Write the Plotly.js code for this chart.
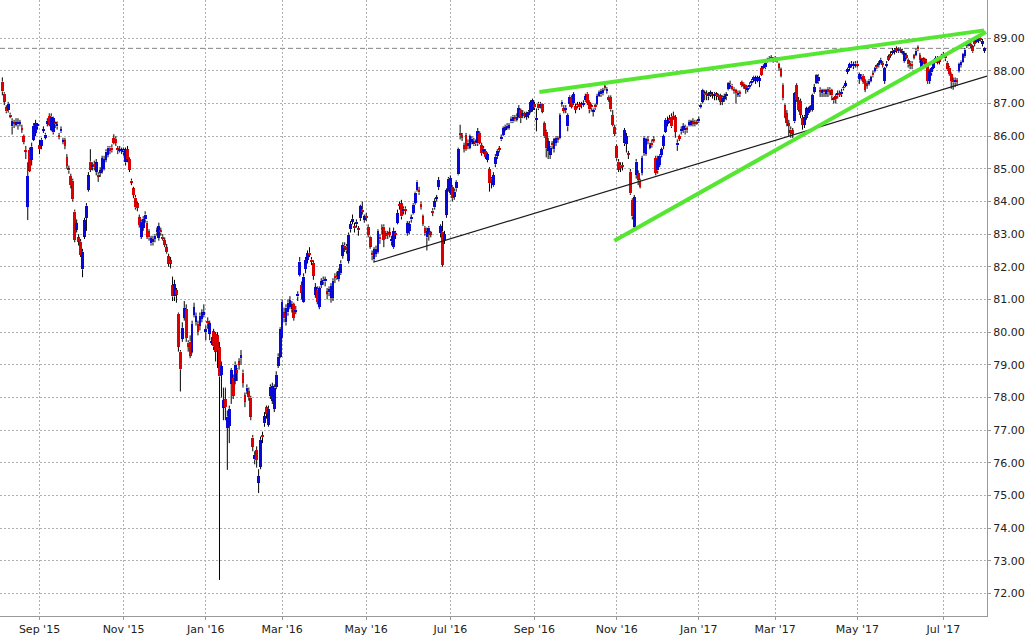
<!DOCTYPE html>
<html>
<head>
<meta charset="utf-8">
<script src="https://cdn.plot.ly/plotly-3.0.1.min.js"></script>
<style>
html,body{margin:0;padding:0;background:#fff;}
#chart{width:1034px;height:641px;}
</style>
</head>
<body>
<div id="chart"></div>
<script>
// ---- trading calendar ----
const firstDay = '2015-08-05';
const holidays = ['2015-09-07','2015-11-26','2015-12-25','2016-01-01','2016-01-18','2016-02-15','2016-03-25',
  '2016-05-30','2016-07-04','2016-09-05','2016-11-24','2016-12-26','2017-01-02','2017-01-16','2017-02-20',
  '2017-04-14','2017-05-29','2017-07-04'];

// ---- daily OHLC (one line per month, Aug 2015 .. Aug 2017) ----
const open = [
 87.67,87.30,86.88,86.80,86.66,86.30,86.42,86.35,86.36,86.38,86.25,86.00,85.58,83.84,85.58,85.27,85.89,86.10,86.30,
 85.73,85.70,86.17,85.95,86.37,86.62,86.19,86.12,86.40,86.30,86.04,86.15,85.82,85.87,85.36,85.00,84.78,84.64,83.69,83.13,82.90,
 82.77,81.92,82.92,83.49,84.35,85.22,85.05,85.15,84.90,84.82,84.88,84.91,85.00,85.27,85.43,85.65,85.65,85.94,85.92,85.62,85.55,85.55,
 85.50,85.20,85.60,85.30,84.64,84.40,84.12,83.95,83.52,82.92,83.20,83.45,83.35,83.10,82.72,82.75,82.85,83.05,82.88,83.12,
 82.92,82.82,82.60,82.33,82.20,81.44,81.09,81.29,80.56,79.40,79.79,80.43,80.71,79.68,79.71,79.40,80.53,80.32,80.25,80.20,80.40,80.52,
 80.00,80.34,79.95,79.68,80.02,79.94,79.90,79.53,78.69,77.69,77.95,77.06,77.13,78.41,78.60,78.50,78.85,79.10,79.20,
 78.76,78.07,78.20,78.20,77.99,76.77,76.10,76.39,75.39,75.88,76.85,77.21,77.70,77.16,78.04,77.90,77.65,78.33,78.96,79.25,
 79.86,80.60,80.30,80.60,80.78,80.70,80.86,80.62,81.09,81.75,81.44,80.93,81.93,82.21,82.43,82.22,82.12,81.14,81.30,80.77,81.45,81.55,
 81.55,81.25,81.22,81.05,81.05,81.72,81.74,81.62,81.80,82.33,82.65,82.62,82.19,83.15,83.38,83.25,83.30,83.18,83.49,83.75,83.44,
 83.55,83.22,82.92,82.42,82.23,82.40,82.46,82.92,83.18,83.23,83.02,83.02,83.05,82.78,82.60,83.04,83.35,83.92,83.95,83.70,83.78,
 83.04,83.10,83.45,83.66,83.96,84.35,84.35,83.93,83.54,83.19,82.90,83.00,83.05,83.72,83.82,84.08,84.44,83.03,83.08,82.80,83.59,84.35,
 84.26,84.45,84.15,84.40,84.83,86.10,86.04,85.72,86.04,85.70,85.64,85.82,85.75,85.82,85.78,86.10,85.73,85.55,85.55,85.27,
 85.00,84.70,84.50,85.14,85.40,85.62,85.90,86.04,86.20,86.25,86.26,86.45,86.45,86.58,86.50,86.60,86.80,86.62,86.70,86.60,86.65,86.73,86.80,
 86.98,86.50,87.00,86.92,86.98,86.40,86.14,85.55,85.43,85.78,85.60,85.80,85.92,85.94,87.00,86.86,86.80,86.30,86.98,87.20,87.01,
 86.92,86.98,86.98,86.98,86.95,87.10,87.30,87.05,86.92,86.74,86.95,87.00,87.24,87.28,87.32,87.52,87.38,87.20,87.20,86.65,86.28,
 85.70,85.22,85.10,85.12,85.78,85.76,85.48,84.91,84.05,83.23,84.81,84.87,84.62,84.87,85.48,85.45,85.92,85.65,85.80,85.92,85.33,
 84.95,85.12,85.42,85.70,86.14,86.38,86.55,86.60,86.62,86.58,85.72,86.00,86.15,86.20,86.18,86.24,86.35,86.35,86.45,86.42,86.42,
 86.45,86.89,87.06,87.32,87.32,87.22,87.28,87.28,87.24,87.30,87.26,87.25,87.05,87.15,87.22,87.44,87.50,87.55,87.45,87.40,
 87.26,87.35,87.65,87.60,87.58,87.42,87.50,87.62,87.72,87.70,87.72,87.70,88.09,88.08,88.11,88.28,88.32,88.42,88.38,
 88.40,88.30,88.20,88.05,87.57,86.96,86.70,86.40,86.20,86.18,86.45,87.57,87.11,87.08,86.56,86.35,86.56,86.70,86.80,86.80,87.36,87.64,87.68,
 87.42,87.32,87.40,87.30,87.45,87.42,87.40,87.15,87.22,87.25,87.32,87.28,87.50,87.55,87.97,88.08,88.15,88.14,88.15,
 88.22,87.75,87.75,87.85,87.72,87.62,87.60,87.70,87.92,88.00,88.16,88.18,88.23,88.24,87.69,88.15,88.44,88.52,88.55,88.58,88.69,88.60,
 88.68,88.55,88.30,88.48,88.32,88.25,88.22,88.48,88.50,88.72,88.48,88.10,88.38,88.35,88.18,87.70,87.95,88.10,88.30,88.40,88.35,88.40,
 88.45,88.45,88.25,88.10,87.91,87.72,87.65,87.72,88.00,88.18,88.28,88.45,88.82,88.80,88.82,88.75,88.90,88.88,88.92,89.02,88.82,88.62
];
const high = [
 87.80,87.35,86.95,87.05,86.72,86.55,86.50,86.55,86.55,86.50,86.35,86.05,85.70,85.20,85.65,85.80,86.40,86.50,86.40,
 85.89,85.95,86.30,86.10,86.55,86.70,86.70,86.60,86.45,86.45,86.10,86.30,85.95,85.95,85.45,85.10,84.85,84.70,83.75,83.45,83.00,
 82.85,82.55,83.50,83.95,84.90,85.60,85.20,85.25,85.30,84.90,85.05,85.40,85.40,85.60,85.70,85.70,85.75,86.06,86.00,85.70,85.70,85.65,
 85.65,85.65,85.70,85.35,84.70,84.45,84.20,84.00,83.60,83.45,83.55,83.70,83.40,83.15,82.95,82.95,83.00,83.20,83.35,83.20,
 83.00,82.90,82.70,82.40,82.30,81.70,81.60,81.35,80.60,79.45,80.30,80.95,80.85,79.75,79.90,80.35,80.90,80.60,80.35,80.60,80.70,80.85,
 80.20,80.45,80.35,79.85,80.10,80.00,80.00,79.70,79.10,78.30,78.30,77.60,77.75,78.90,78.70,79.10,78.90,79.20,79.45,
 78.85,78.15,78.40,78.30,78.05,76.85,76.35,76.50,75.80,76.80,76.95,77.55,77.75,77.75,78.40,78.45,78.40,78.80,79.35,80.15,
 81.00,80.75,80.85,81.00,81.10,80.95,80.90,80.80,81.25,82.30,81.55,81.80,82.30,82.50,82.60,82.30,82.20,81.50,81.40,81.40,81.65,81.70,
 81.70,81.35,81.40,81.50,81.65,81.80,81.85,81.95,82.20,82.75,82.75,82.70,83.05,83.40,83.60,83.35,83.45,83.25,83.90,84.00,83.60,
 83.65,83.30,82.95,82.50,82.60,82.65,83.15,83.00,83.30,83.30,83.10,83.10,83.20,82.95,83.20,83.10,83.75,84.00,84.05,83.85,83.85,
 83.40,83.40,83.60,83.95,84.30,84.65,84.45,84.00,83.60,83.25,83.20,83.25,83.10,83.80,84.10,84.20,84.75,83.30,83.40,83.10,84.40,84.75,
 84.80,84.50,84.40,84.65,85.65,86.35,86.10,85.80,86.10,85.90,86.05,86.00,85.95,85.90,86.25,86.15,85.80,85.70,85.60,85.50,
 85.05,84.75,84.90,85.45,85.60,85.70,86.05,86.30,86.35,86.40,86.40,86.60,86.65,86.65,86.70,86.95,86.85,86.80,86.75,86.75,86.80,87.10,87.15,
 87.05,86.85,87.05,87.05,87.00,86.45,86.20,85.95,85.70,85.85,85.95,86.00,86.00,86.70,87.10,86.95,86.95,86.70,87.25,87.25,87.35,
 87.00,87.05,87.05,87.05,87.10,87.30,87.35,87.10,87.00,86.85,87.00,87.30,87.40,87.45,87.48,87.60,87.50,87.25,87.25,86.80,86.35,
 85.75,85.30,85.20,85.20,86.25,86.10,85.55,85.00,84.10,84.20,85.30,84.95,84.70,85.40,86.00,85.95,86.00,85.80,85.90,86.00,85.40,
 85.40,85.45,85.65,86.05,86.55,86.60,86.65,86.70,86.75,86.65,85.90,86.05,86.30,86.40,86.35,86.30,86.50,86.50,86.55,86.50,86.50,
 86.60,87.00,87.45,87.40,87.40,87.35,87.40,87.35,87.35,87.35,87.30,87.30,87.25,87.30,87.35,87.65,87.70,87.60,87.50,87.45,
 87.40,87.40,87.70,87.65,87.60,87.55,87.65,87.75,87.85,87.85,87.85,87.85,88.15,88.20,88.30,88.40,88.45,88.48,88.42,
 88.45,88.42,88.25,88.10,87.62,87.00,86.80,86.50,86.30,86.25,87.35,87.62,87.20,87.15,86.65,86.65,86.90,86.90,86.95,87.30,87.60,87.90,87.90,
 87.50,87.45,87.45,87.45,87.50,87.50,87.45,87.20,87.30,87.40,87.40,87.45,87.55,87.70,88.10,88.25,88.30,88.28,88.30,
 88.30,87.95,87.90,87.90,87.75,87.70,87.75,87.85,88.00,88.12,88.20,88.30,88.40,88.30,88.12,88.30,88.50,88.60,88.70,88.70,88.75,88.72,
 88.72,88.68,88.60,88.55,88.38,88.30,88.30,88.52,88.68,88.78,88.55,88.40,88.42,88.38,88.22,88.05,88.12,88.35,88.45,88.45,88.40,88.52,
 88.58,88.50,88.30,88.15,87.95,87.80,87.80,87.78,88.25,88.32,88.55,88.70,88.88,88.92,88.88,88.80,88.95,89.05,89.05,89.10,88.98,88.72
];
const low = [
 87.25,86.95,86.70,86.72,86.55,86.05,86.25,86.30,86.20,86.30,86.10,85.75,85.30,83.43,84.90,85.10,85.85,86.00,86.20,
 85.45,85.60,86.10,85.90,86.30,86.30,86.15,86.05,86.25,86.20,85.90,86.10,85.75,85.60,85.00,84.85,84.40,84.00,82.75,83.05,82.65,
 82.30,81.68,82.85,83.10,84.30,84.90,84.95,84.95,84.80,84.60,84.75,84.85,84.95,85.20,85.35,85.45,85.50,85.75,85.70,85.45,85.50,85.45,
 85.40,85.10,85.20,84.90,84.50,84.10,83.75,83.70,83.20,82.85,83.10,83.35,82.85,82.80,82.65,82.65,82.75,82.95,82.80,82.95,
 82.80,82.60,82.40,82.00,81.95,80.95,80.95,80.90,79.40,78.18,79.70,80.35,79.70,79.40,79.20,79.35,80.45,80.20,79.90,80.05,80.30,80.45,
 79.75,80.10,79.75,79.60,79.45,79.10,78.90,72.41,78.00,77.30,77.30,75.78,76.60,77.80,77.95,78.40,78.50,78.85,79.00,
 78.30,77.70,78.10,77.90,77.30,76.35,75.95,75.85,75.07,75.80,76.60,77.10,77.35,77.10,77.95,77.80,77.55,78.25,78.90,79.20,
 79.80,80.30,80.20,80.50,80.70,80.60,80.35,80.55,80.95,81.70,81.00,80.90,81.80,82.10,82.30,82.05,81.60,81.05,80.85,80.70,81.35,81.45,
 81.40,81.00,81.10,80.90,80.95,81.50,81.60,81.55,81.75,82.25,82.45,82.40,82.10,83.05,83.30,83.05,83.20,82.95,83.40,83.60,83.35,
 83.40,82.90,82.55,82.20,82.15,82.30,82.40,82.70,83.00,82.60,82.85,82.85,82.90,82.65,82.55,82.85,83.30,83.75,83.45,83.60,83.60,
 82.95,83.00,83.35,83.60,83.90,84.30,84.20,83.75,83.25,82.95,82.50,82.80,82.90,83.55,83.75,84.00,84.35,82.90,82.00,82.70,83.50,84.30,
 84.20,84.00,84.05,84.30,84.80,85.90,85.85,85.50,85.55,85.60,85.60,85.75,85.70,85.70,85.70,85.75,85.40,85.45,85.30,85.20,
 84.30,84.40,84.45,85.05,85.30,85.50,85.85,86.00,86.15,86.20,86.20,86.40,86.40,86.45,86.45,86.55,86.40,86.55,86.55,86.50,86.55,86.70,86.75,
 86.80,86.15,86.80,86.85,86.70,85.95,85.35,85.30,85.30,85.60,85.50,85.70,85.80,85.90,86.90,86.70,86.70,86.15,86.90,86.85,86.95,
 86.70,86.85,86.80,86.85,86.90,87.05,86.95,86.70,86.75,86.60,86.80,86.95,87.20,87.20,87.25,87.40,87.30,87.05,86.75,86.30,86.00,
 85.25,84.90,84.90,84.95,85.70,85.50,85.30,84.20,83.45,83.15,84.70,84.50,84.40,84.80,85.40,85.40,85.75,85.60,85.65,85.80,84.80,
 84.85,85.05,85.35,85.60,86.10,86.30,86.40,86.25,86.50,85.95,85.55,85.85,86.05,86.10,86.05,86.10,86.30,86.30,86.30,86.30,86.35,
 86.40,86.85,87.00,87.10,87.10,87.10,87.20,87.15,87.10,87.10,87.10,86.95,86.95,87.05,87.10,87.40,87.45,87.40,87.30,87.00,
 87.20,87.20,87.50,87.45,87.30,87.35,87.45,87.55,87.65,87.60,87.65,87.50,87.85,88.05,88.05,88.25,88.28,88.30,88.25,
 88.28,88.25,88.00,87.80,87.10,86.55,86.30,86.00,85.95,85.95,86.40,87.05,86.75,86.55,86.20,86.25,86.50,86.65,86.75,86.75,87.30,87.60,87.60,
 87.20,87.20,87.20,87.20,87.20,87.25,87.10,87.00,87.00,87.15,87.20,87.20,87.40,87.50,87.90,88.00,88.10,88.05,88.10,
 88.10,87.60,87.70,87.60,87.35,87.45,87.55,87.65,87.80,87.95,88.05,88.10,88.20,88.10,87.60,88.10,88.30,88.40,88.50,88.50,88.55,88.55,
 88.55,88.50,88.25,88.35,88.10,88.05,88.05,88.35,88.45,88.60,88.25,88.05,88.20,88.10,87.60,87.60,87.85,88.05,88.25,88.20,88.20,88.35,
 88.40,88.30,88.00,87.85,87.45,87.42,87.50,87.55,87.95,88.10,88.25,88.40,88.70,88.75,88.70,88.55,88.75,88.85,88.85,88.90,88.75,88.55
];
const close = [
 87.37,87.05,86.76,86.99,86.60,86.47,86.38,86.42,86.42,86.43,86.19,85.82,85.52,84.78,84.94,85.68,86.32,86.40,86.32,
 85.60,85.89,86.22,86.05,86.47,86.35,86.60,86.55,86.36,86.38,85.97,86.22,85.88,85.70,85.09,84.95,84.50,84.07,82.82,83.34,82.77,
 82.36,82.46,83.43,83.87,84.81,84.97,85.12,85.05,85.20,84.76,84.95,85.33,85.30,85.53,85.65,85.55,85.57,85.80,85.80,85.57,85.60,85.58,
 85.56,85.60,85.30,84.97,84.58,84.20,83.82,83.80,83.28,83.38,83.47,83.60,82.92,82.90,82.87,82.85,82.95,83.12,83.25,83.05,
 82.86,82.67,82.45,82.09,82.10,81.09,81.47,81.14,79.55,78.86,80.13,80.74,79.82,79.55,79.27,80.25,80.76,80.49,80.00,80.50,80.60,80.60,
 80.10,80.27,80.27,79.72,79.56,79.40,79.45,78.64,78.96,77.92,77.70,77.41,77.65,78.84,78.05,79.00,78.75,79.00,79.30,
 78.45,77.87,78.30,78.00,77.41,76.49,76.24,76.08,75.59,76.70,76.78,77.43,77.50,77.65,78.33,78.35,78.30,78.69,79.25,80.10,
 80.93,80.42,80.75,80.90,80.98,80.85,80.43,80.68,81.17,82.16,81.21,81.70,82.21,82.42,82.36,82.15,81.72,81.38,80.92,81.35,81.55,81.60,
 81.62,81.18,81.32,81.40,81.57,81.66,81.68,81.88,82.10,82.67,82.58,82.50,82.98,83.31,83.47,83.18,83.38,83.12,83.86,83.68,83.54,
 83.50,82.98,82.62,82.35,82.54,82.55,83.10,82.84,83.12,82.82,82.95,82.97,82.98,82.84,83.10,82.98,83.65,83.86,83.54,83.78,83.72,
 83.34,83.30,83.52,83.90,84.27,84.61,84.28,83.84,83.31,83.03,83.10,83.20,82.98,83.65,84.00,84.12,84.66,83.25,82.06,83.00,84.35,84.70,
 84.72,84.10,84.30,84.60,85.61,86.04,85.94,85.62,85.61,85.80,85.99,85.92,85.85,85.78,86.16,85.80,85.48,85.62,85.37,85.45,
 84.56,84.60,84.81,85.37,85.55,85.58,85.98,86.24,86.28,86.32,86.34,86.52,86.60,86.53,86.60,86.86,86.55,86.70,86.62,86.70,86.75,87.04,87.10,
 86.88,86.56,86.85,87.00,86.75,85.99,85.63,85.85,85.65,85.72,85.90,85.95,85.88,86.65,87.06,86.77,86.87,86.65,87.21,86.90,87.28,
 86.80,86.94,86.88,86.95,87.02,87.22,87.02,86.82,86.88,86.78,86.88,87.22,87.35,87.38,87.40,87.47,87.45,87.12,86.82,86.34,86.07,
 85.32,84.97,85.02,85.06,86.19,86.00,85.43,84.25,83.54,84.13,85.22,84.66,84.45,85.33,85.95,85.90,85.86,85.72,85.72,85.86,84.88,
 85.30,85.40,85.60,86.00,86.50,86.48,86.48,86.30,86.56,86.14,85.80,85.92,86.22,86.30,86.26,86.18,86.42,86.45,86.38,86.38,86.38,
 86.52,86.96,87.42,87.28,87.26,87.28,87.34,87.24,87.30,87.25,87.20,87.05,87.18,87.22,87.28,87.62,87.58,87.45,87.38,87.32,
 87.32,87.28,87.58,87.55,87.45,87.48,87.58,87.70,87.82,87.78,87.80,87.78,87.88,88.15,88.25,88.35,88.40,88.35,88.32,
 88.34,88.34,88.10,87.85,87.16,86.60,86.40,86.32,86.10,86.08,87.32,87.11,86.80,86.65,86.34,86.60,86.85,86.85,86.92,87.26,87.50,87.88,87.82,
 87.35,87.40,87.34,87.40,87.35,87.36,87.25,87.10,87.15,87.32,87.26,87.36,87.46,87.62,88.06,88.20,88.22,88.20,88.22,
 88.16,87.90,87.82,87.67,87.42,87.55,87.70,87.80,87.86,88.08,88.12,88.24,88.34,88.18,88.08,88.22,88.34,88.46,88.62,88.65,88.61,88.68,
 88.62,88.62,88.55,88.40,88.20,88.15,88.15,88.40,88.62,88.66,88.32,88.35,88.30,88.15,87.69,88.00,88.08,88.30,88.38,88.25,88.28,88.46,
 88.52,88.38,88.05,87.90,87.69,87.65,87.72,87.66,88.20,88.28,88.52,88.65,88.76,88.86,88.76,88.60,88.82,89.00,88.98,88.94,88.92,88.69
];

// ---- axis labels ----
const tickMonths = ['2015-09','2015-11','2016-01','2016-03','2016-05','2016-07','2016-09','2016-11','2017-01','2017-03','2017-05','2017-07'];
const tickLabels = ["Sep '15","Nov '15","Jan '16","Mar '16","May '16","Jul '16","Sep '16","Nov '16","Jan '17","Mar '17","May '17","Jul '17"];
const priceTicks = [72,73,74,75,76,77,78,79,80,81,82,83,84,85,86,87,88,89];

// ---- drawn lines (x in trading-day index, y in price) ----
const upperTrendX = [274.5, 501.8], upperTrendY = [87.35, 89.24];
const risingTrendX = [312.8, 502.8], risingTrendY = [82.80, 89.19];
const supportX = [189.6, 503.3], supportY = [82.14, 87.84];
const refLevel = 88.69;

// ---- build ----
const n = close.length;
const dates = [];
(function(){
  const p = firstDay.split('-').map(Number);
  const d = new Date(Date.UTC(p[0], p[1]-1, p[2]));
  while (dates.length < n) {
    const wd = d.getUTCDay();
    const iso = d.toISOString().slice(0,10);
    if (wd > 0 && wd < 6 && holidays.indexOf(iso) < 0) dates.push(iso);
    d.setUTCDate(d.getUTCDate()+1);
  }
})();
const tickvals = tickMonths.map(m => dates.findIndex(s => s.indexOf(m) === 0));

const UP = '#0808d8', DOWN = '#dc0000';
const wx = [], wy = [], bx = [], bbase = [], blen = [], bcol = [];
for (let i = 0; i < n; i++) {
  const top = Math.max(open[i], close[i]), bot = Math.min(open[i], close[i]);
  wx.push(i, i, null, i, i, null);
  wy.push(high[i], top, null, bot, low[i], null);
  bx.push(i);
  bbase.push(bot);
  blen.push(Math.max(top - bot, 0.06));
  bcol.push(close[i] >= open[i] ? UP : DOWN);
}

const traces = [
  {type:'scatter', mode:'lines', x:wx, y:wy, line:{color:'#000', width:1}, hoverinfo:'skip', showlegend:false},
  {type:'bar', x:bx, y:blen, base:bbase, width:1.4, marker:{color:bcol, line:{width:0}}, hoverinfo:'skip', showlegend:false},
  {type:'scatter', mode:'lines', x:supportX, y:supportY, line:{color:'#1a1a1a', width:1.2}, hoverinfo:'skip', showlegend:false},
  {type:'scatter', mode:'lines', x:upperTrendX, y:upperTrendY, line:{color:'#55e632', width:4}, hoverinfo:'skip', showlegend:false},
  {type:'scatter', mode:'lines', x:risingTrendX, y:risingTrendY, line:{color:'#55e632', width:4}, hoverinfo:'skip', showlegend:false}
];

const font = {family:'DejaVu Sans, Verdana, sans-serif', size:11, color:'#222'};
const layout = {
  width:1034, height:641,
  margin:{l:0, r:47, t:0, b:25, pad:0},
  paper_bgcolor:'#fff', plot_bgcolor:'#fff',
  showlegend:false, hovermode:false, bargap:0,
  xaxis:{
    range:[-1.19, 503.3], tickmode:'array', tickvals:tickvals, ticktext:tickLabels,
    showgrid:true, gridcolor:'#b0b0b0', griddash:'2px,2px', gridwidth:1,
    showline:true, linecolor:'#999', linewidth:1, zeroline:false,
    ticks:'outside', ticklen:3, tickcolor:'#999', tickfont:font, fixedrange:true
  },
  yaxis:{
    side:'right', range:[71.305, 90.17], tickmode:'array', tickvals:priceTicks,
    tickformat:'.2f', showgrid:true, gridcolor:'#b0b0b0', griddash:'2px,2px', gridwidth:1,
    showline:true, mirror:true, linecolor:'#999', linewidth:1, zeroline:false,
    ticks:'outside', ticklen:3, tickcolor:'#999', tickfont:font, fixedrange:true
  },
  shapes:[
    {type:'line', xref:'paper', x0:0, x1:1, yref:'y', y0:refLevel, y1:refLevel,
     line:{color:'#808080', width:1, dash:'5px,3px'}, layer:'below'}
  ]
};

Plotly.newPlot('chart', traces, layout, {staticPlot:true, displayModeBar:false});
</script>
</body>
</html>
